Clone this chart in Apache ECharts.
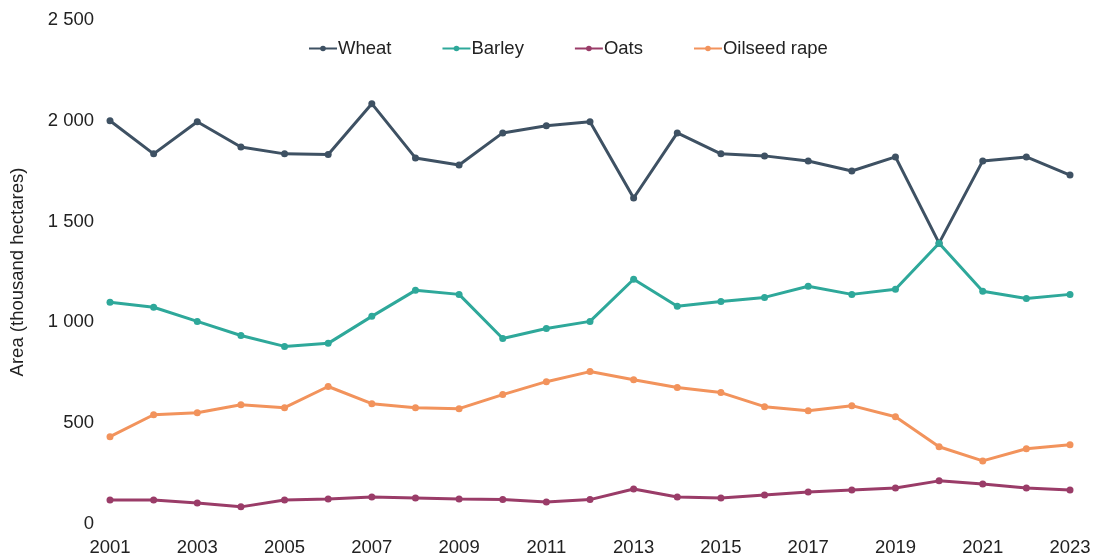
<!DOCTYPE html>
<html>
<head>
<meta charset="utf-8">
<script src="https://cdn.jsdelivr.net/npm/echarts@6/dist/echarts.min.js"></script>
<style>
html,body{margin:0;padding:0;background:#fff;}
#chart{width:1095px;height:557px;}
</style>
</head>
<body>
<div id="chart"></div>
<script>
const years = ['2001','2002','2003','2004','2005','2006','2007','2008','2009','2010','2011','2012','2013','2014','2015','2016','2017','2018','2019','2020','2021','2022','2023'];
const wheat = [2000,1836,1995,1870,1836,1833,2085,1816,1781,1940,1975,1995,1617,1940,1836,1826,1801,1751,1821,1393,1801,1821,1731];
const barley = [1100,1075,1005,935,881,896,1030,1159,1139,920,970,1005,1214,1080,1104,1124,1179,1139,1164,1393,1154,1119,1139];
const oats = [119,119,104,85,119,124,134,129,124,121,109,121,174,134,129,144,159,169,179,214,199,179,169];
const oilseed = [433,542,552,592,577,682,597,577,572,642,706,756,716,677,652,582,562,587,532,383,313,373,393];
const seriesNames = ['Wheat','Barley','Oats','Oilseed rape'];

const colors = ['#3e5163','#2ea89a','#9a3c68','#f2935c'];
const font = 'Liberation Sans, Arial, sans-serif';
const fs = 18.5;

function mk(name, data, color){
  return {
    name: name, type: 'line', data: data,
    symbol: 'circle', symbolSize: 7,
    lineStyle: {width: 3, color: color},
    itemStyle: {color: color},
    emphasis: {disabled: true}
  };
}

const chart = echarts.init(document.getElementById('chart'));
chart.setOption({
  animation: false,
  backgroundColor: '#fff',
  color: colors,
  legend: {
    top: 34, left: 303,
    itemWidth: 28, itemHeight: 7, itemGap: 50,
    textStyle: {fontFamily: font, fontSize: fs, color: '#222', padding: [0,0,0,-4]},
    data: seriesNames
  },
  grid: {left: 110, right: 25, top: 20, bottom: 33, containLabel: false, outerBoundsMode: 'none'},
  xAxis: {
    type: 'category', data: years, boundaryGap: false,
    axisLine: {show: false}, axisTick: {show: false},
    axisLabel: {interval: 1, fontFamily: font, fontSize: fs, color: '#222', margin: 14}
  },
  yAxis: {
    type: 'value', min: 0, max: 2500, interval: 500,
    name: 'Area (thousand hectares)', nameLocation: 'middle', nameGap: 83,
    nameTextStyle: {fontFamily: font, fontSize: fs, color: '#222'},
    splitLine: {show: false}, axisLine: {show: false}, axisTick: {show: false},
    axisLabel: {
      fontFamily: font, fontSize: fs, color: '#222', margin: 16,
      formatter: v => String(v).replace(/\B(?=(\d{3})+(?!\d))/g, ' ')
    }
  },
  series: [
    mk(seriesNames[0], wheat, colors[0]),
    mk(seriesNames[1], barley, colors[1]),
    mk(seriesNames[2], oats, colors[2]),
    mk(seriesNames[3], oilseed, colors[3])
  ]
});
</script>
</body>
</html>
